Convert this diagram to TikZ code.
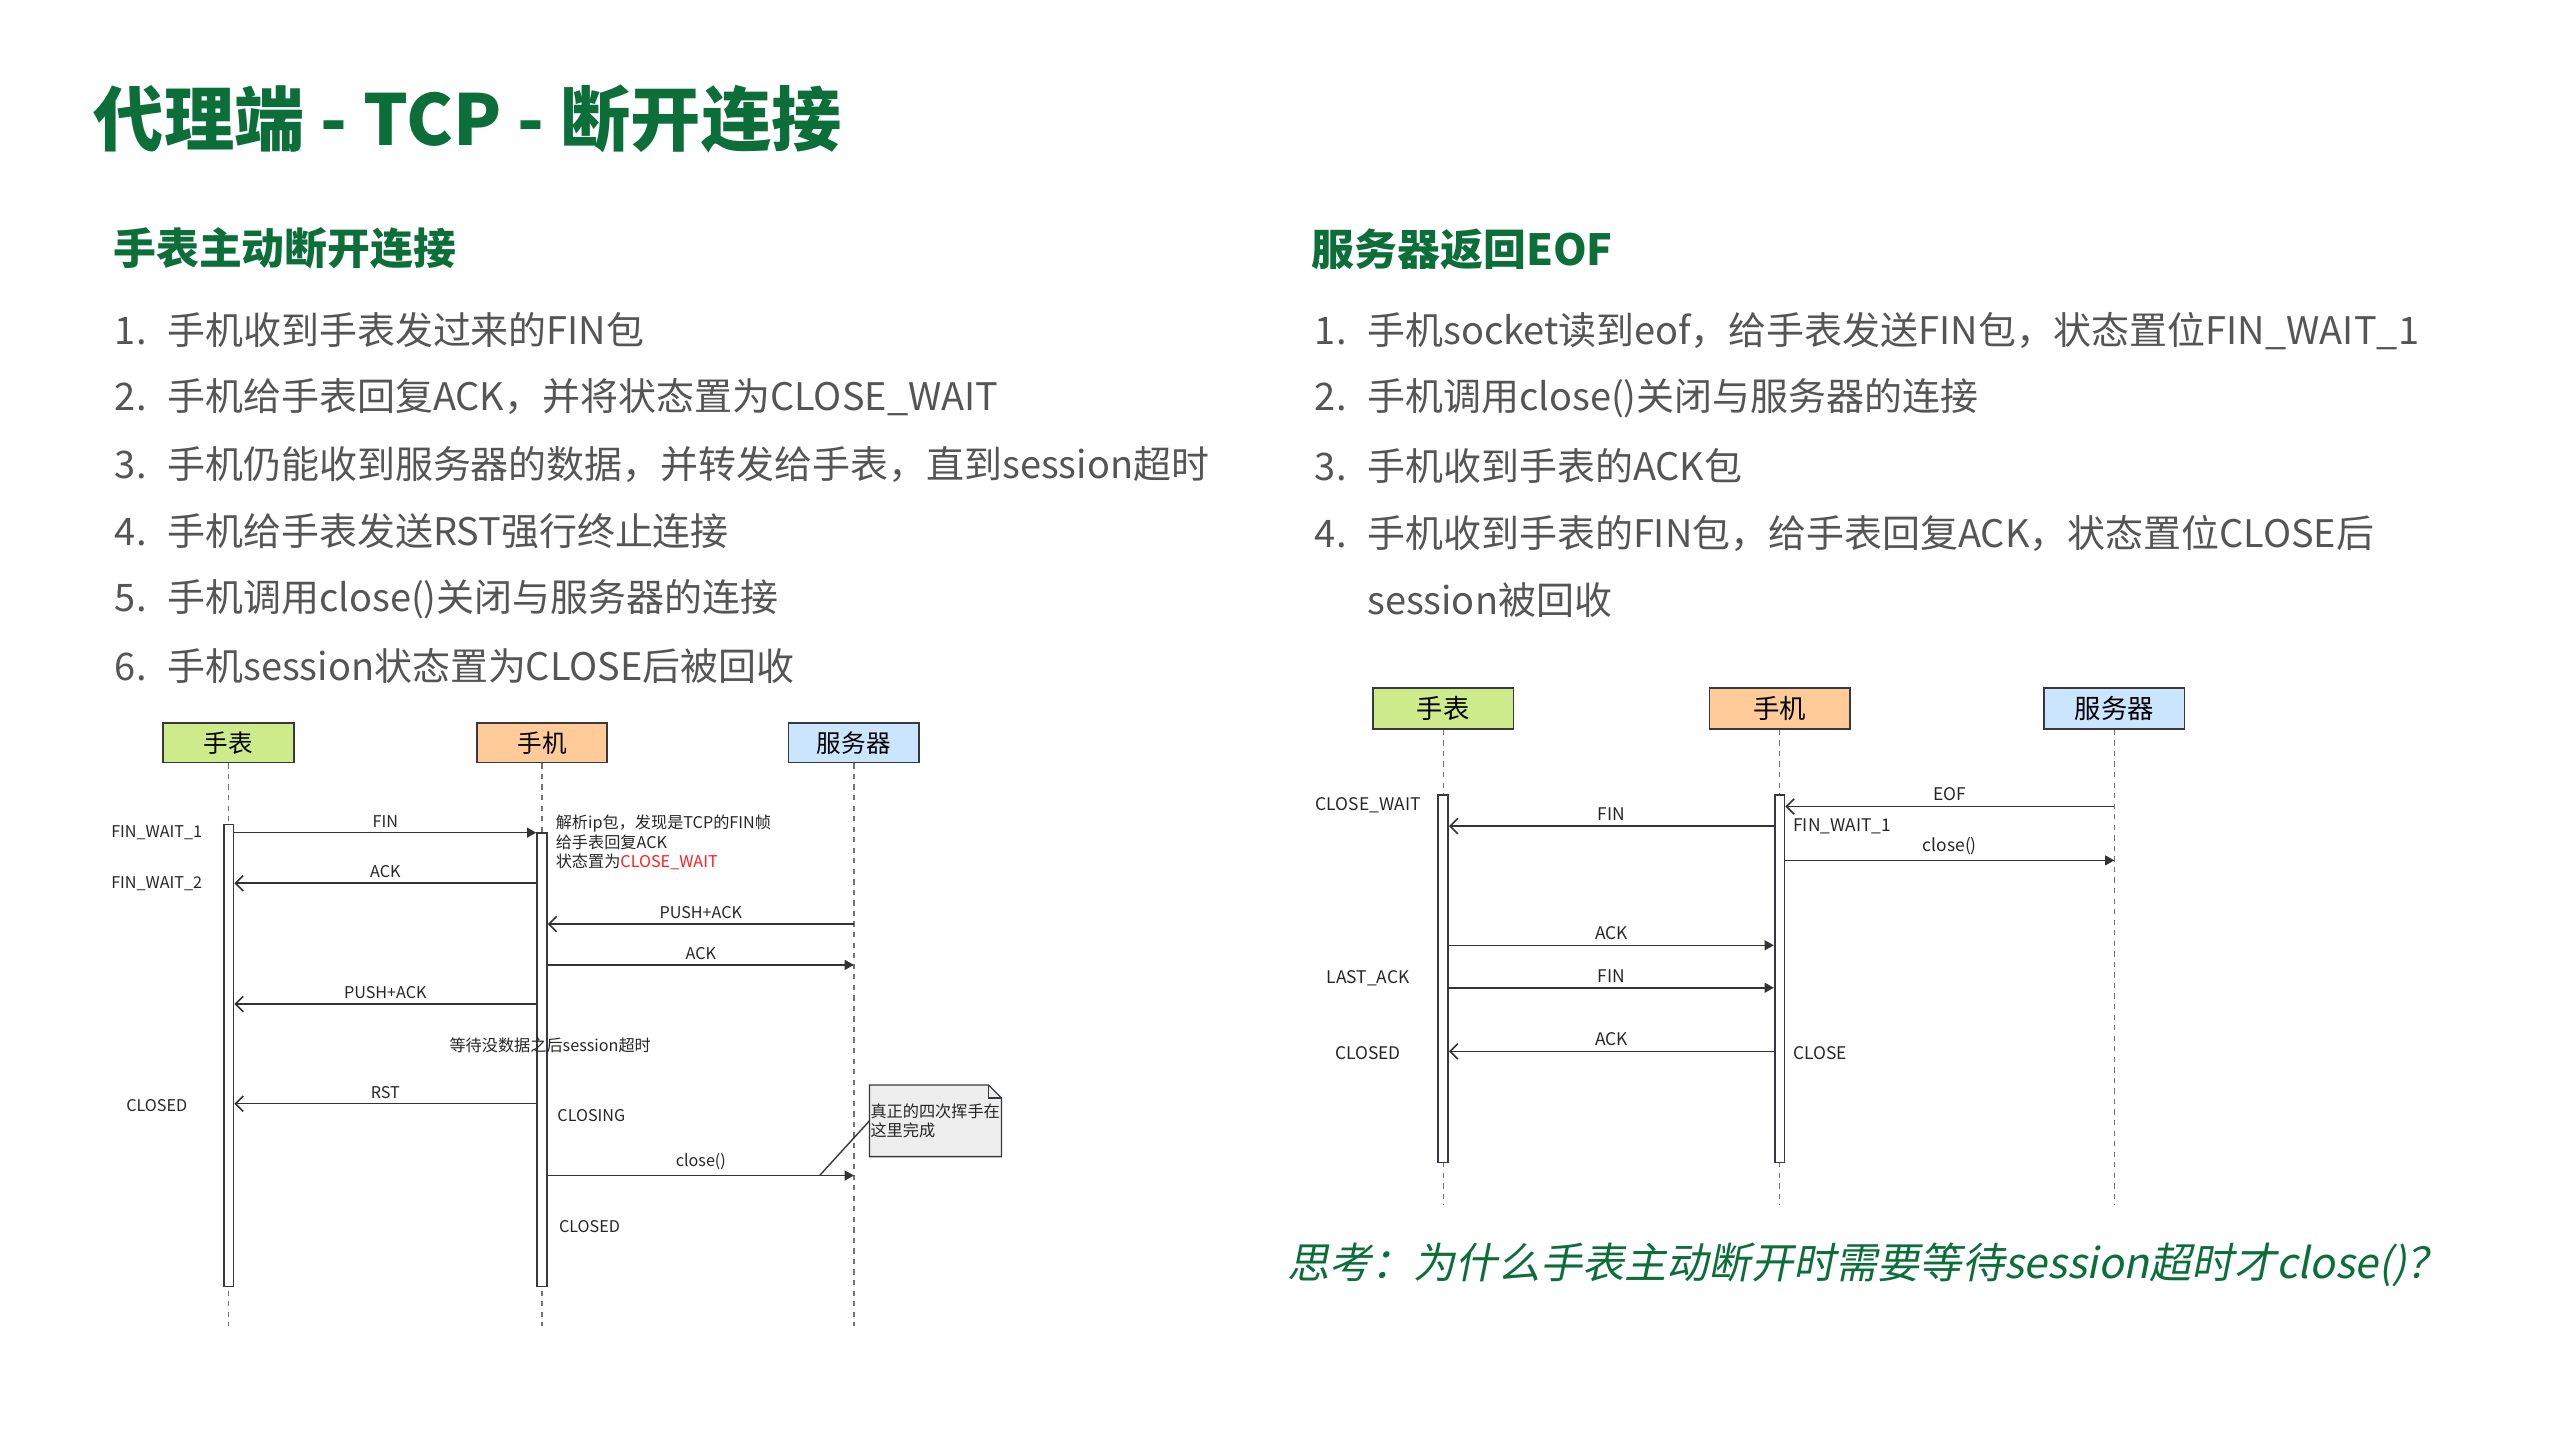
\documentclass[tikz,border=0pt]{standalone}
\usepackage{fontspec}
\setmainfont{Noto Sans CJK SC}
\newfontfamily\slantcjk{Noto Sans CJK SC}[FakeSlant=0.2]
\usetikzlibrary{arrows.meta,backgrounds}
\definecolor{titlegreen}{RGB}{12,110,56}
\definecolor{listgray}{RGB}{85,85,85}
\definecolor{boxline}{RGB}{54,57,61}
\definecolor{watchfill}{RGB}{205,235,139}
\definecolor{phonefill}{RGB}{255,204,153}
\definecolor{serverfill}{RGB}{204,229,255}
\definecolor{notefill}{RGB}{238,238,238}
\definecolor{warnred}{RGB}{255,30,30}

\begin{document}
\begin{tikzpicture}[x=0.016327cm,y=-0.016327cm,every node/.style={inner sep=0pt},
  title/.style={anchor=west,font=\fontsize{20}{24}\selectfont\bfseries,text=titlegreen},
  head/.style={anchor=west,font=\fontsize{12.2}{14}\selectfont\bfseries,text=titlegreen},
  item/.style={anchor=west,font=\fontsize{10.8}{13}\selectfont,text=listgray},
  actor/.style={draw=boxline,line width=0.5pt,minimum width=1.306cm,minimum height=0.392cm,font=\fontsize{7}{8}\selectfont},
  actorR/.style={actor,minimum width=1.404cm,minimum height=0.408cm,font=\fontsize{7.5}{9}\selectfont},
  life/.style={draw=black!55,dash pattern=on 1.5pt off 1.5pt,line width=0.4pt},
  bar/.style={draw=boxline,fill=white,line width=0.5pt,minimum width=0.098cm},
  msg/.style={draw=black!80,line width=0.45pt,-{Straight Barb[length=2.2pt,width=4.4pt]}},
  msgf/.style={draw=black!80,line width=0.45pt,-{Triangle[length=2.6pt,width=2.8pt]}},
  lbl/.style={font=\fontsize{4.6}{5.6}\selectfont,text=black!85,above=1.3pt},
  lblR/.style={lbl,font=\fontsize{4.95}{6}\selectfont},
  stlbl/.style={font=\fontsize{4.6}{5.6}\selectfont,text=black!85,align=left},
  stlblR/.style={stlbl,font=\fontsize{4.95}{6}\selectfont},
  note/.style={minimum width=1.306cm,minimum height=0.702cm,text width=1.30cm,align=left,font=\fontsize{4.6}{5.2}\selectfont,text=black!85}]
\useasboundingbox (0,0) rectangle (1568,882);

% title and text
\node[title] (ttl) at (57,73) {代理端 - TCP - 断开连接};
\node[head] (hdL) at (69,152) {手表主动断开连接};
\node[item] (iL1) at (70,202) {\makebox[14.9pt][l]{1.}手机收到手表发过来的FIN包};
\node[item] (iL2) at (70,243.2) {\makebox[14.9pt][l]{2.}手机给手表回复ACK，并将状态置为CLOSE\_WAIT};
\node[item] (iL3) at (70,284.4) {\makebox[14.9pt][l]{3.}手机仍能收到服务器的数据，并转发给手表，直到session超时};
\node[item] (iL4) at (70,325.6) {\makebox[14.9pt][l]{4.}手机给手表发送RST强行终止连接};
\node[item] (iL5) at (70,366.8) {\makebox[14.9pt][l]{5.}手机调用close()关闭与服务器的连接};
\node[item] (iL6) at (70,408) {\makebox[14.9pt][l]{6.}手机session状态置为CLOSE后被回收};

\node[head] (hdR) at (803,153) {服务器返回EOF};
\node[item] (iR1) at (805,203) {\makebox[14.9pt][l]{1.}手机socket读到eof，给手表发送FIN包，状态置位FIN\_WAIT\_1};
\node[item] (iR2) at (805,244.2) {\makebox[14.9pt][l]{2.}手机调用close()关闭与服务器的连接};
\node[item] (iR3) at (805,285.4) {\makebox[14.9pt][l]{3.}手机收到手表的ACK包};
\node[item] (iR4) at (805,326.6) {\makebox[14.9pt][l]{4.}手机收到手表的FIN包，给手表回复ACK，状态置位CLOSE后};
\node[item] (iR5) at (837,367.8) {session被回收};

% left sequence
\node[actor,fill=watchfill] (wL) at (140,455) {手表};
\node[actor,fill=phonefill] (pL) at (332,455) {手机};
\node[actor,fill=serverfill] (sL) at (523,455) {服务器};
\draw[life] (wL.south) -- (wL.south |- 0,812);
\draw[life] (pL.south) -- (pL.south |- 0,812);
\draw[life] (sL.south) -- (sL.south |- 0,812);
\node[bar,minimum height=4.621cm] (wa) at (140,646.5) {};
\node[bar,minimum height=4.539cm] (pa) at (332,649) {};

\draw[msgf] (wa.east |- 0,510) -- node[lbl]{FIN} (pa.west |- 0,510);
\draw[msg] (pa.west |- 0,541) -- node[lbl]{ACK} (wa.east |- 0,541);
\draw[msg] (sL |- 0,566) -- node[lbl]{PUSH+ACK} (pa.east |- 0,566);
\draw[msgf] (pa.east |- 0,591) -- node[lbl]{ACK} (sL |- 0,591);
\draw[msg] (pa.west |- 0,615) -- node[lbl]{PUSH+ACK} (wa.east |- 0,615);
\draw[msg] (pa.west |- 0,676) -- node[lbl]{RST} (wa.east |- 0,676);
\draw[msgf] (pa.east |- 0,720) -- node[lbl]{close()} (sL |- 0,720);

\node[stlbl] (fw1) at (96,510) {FIN\_WAIT\_1};
\node[stlbl] (fw2) at (96,541) {FIN\_WAIT\_2};
\node[stlbl] (clL) at (96,677) {CLOSED};
\node[stlbl,anchor=west] (parse) at (340,516) {解析ip包，发现是TCP的FIN帧\\给手表回复ACK\\状态置为\textcolor{warnred}{CLOSE\_WAIT}};
\node[stlbl] (wait) at (337,640) {等待没数据之后session超时};
\node[stlbl,anchor=west] (clsg) at (341,683) {CLOSING};
\node[stlbl,anchor=west] (clP) at (342,751) {CLOSED};

% note with folded corner
\node[note] (note) at (573,686.5) {真正的四次挥手在\\这里完成};
\begin{scope}[on background layer]
\draw[draw=boxline,fill=notefill,line width=0.4pt] (note.north west) -- ([xshift=-0.13cm]note.north east) -- ([yshift=-0.13cm]note.north east) -- (note.south east) -- (note.south west) -- cycle;
\draw[draw=boxline,line width=0.4pt] ([xshift=-0.13cm]note.north east) -- ([xshift=-0.13cm,yshift=-0.13cm]note.north east) -- ([yshift=-0.13cm]note.north east);
\end{scope}
\coordinate (noteTip) at (502,720);
\draw[draw=boxline,line width=0.4pt] (note.west) -- (noteTip);

% right sequence
\node[actorR,fill=watchfill] (wR) at (884,434) {手表};
\node[actorR,fill=phonefill] (pR) at (1090,434) {手机};
\node[actorR,fill=serverfill] (sR) at (1295,434) {服务器};
\draw[life] (wR.south) -- (wR.south |- 0,738);
\draw[life] (pR.south) -- (pR.south |- 0,738);
\draw[life] (sR.south) -- (sR.south |- 0,738);
\node[bar,minimum height=3.674cm] (wb) at (884,599.5) {};
\node[bar,minimum height=3.674cm] (pb) at (1090,599.5) {};

\draw[msg] (sR |- 0,494) -- node[lblR]{EOF} (pb.east |- 0,494);
\draw[msg] (pb.west |- 0,506) -- node[lblR]{FIN} (wb.east |- 0,506);
\draw[msgf] (pb.east |- 0,527) -- node[lblR]{close()} (sR |- 0,527);
\draw[msgf] (wb.east |- 0,579) -- node[lblR]{ACK} (pb.west |- 0,579);
\draw[msgf] (wb.east |- 0,605) -- node[lblR]{FIN} (pb.west |- 0,605);
\draw[msg] (pb.west |- 0,644) -- node[lblR]{ACK} (wb.east |- 0,644);

\node[stlblR] (cw) at (838,493) {CLOSE\_WAIT};
\node[stlblR] (la) at (838,599) {LAST\_ACK};
\node[stlblR] (clW) at (838,645) {CLOSED};
\node[stlblR,anchor=west] (fwR) at (1098,506) {FIN\_WAIT\_1};
\node[stlblR,anchor=west] (clR) at (1098,645) {CLOSE};

\node[anchor=west,font=\slantcjk\fontsize{12}{14}\selectfont,text=titlegreen] (ask) at (788,775) {思考：为什么手表主动断开时需要等待session超时才close()？};
\end{tikzpicture}
\end{document}
